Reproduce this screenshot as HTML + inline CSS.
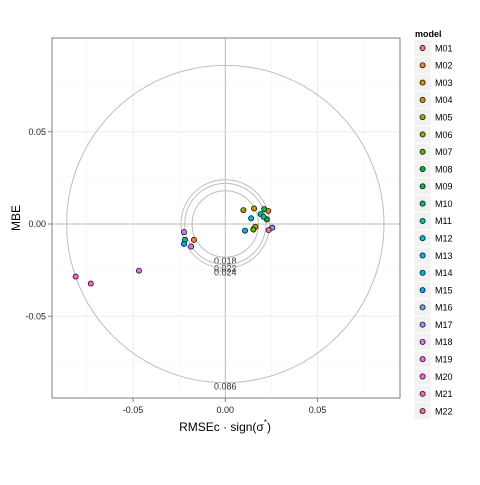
<!DOCTYPE html>
<html><head><meta charset="utf-8"><style>
body{margin:0;background:#fff;font-family:"Liberation Sans",sans-serif}
svg text{font-family:"Liberation Sans",sans-serif}
</style></head><body>
<svg id="c" width="480" height="480" xmlns="http://www.w3.org/2000/svg"></svg>
<script>
const models=["M01","M02","M03","M04","M05","M06","M07","M08","M09","M10","M11","M12","M13","M14","M15","M16","M17","M18","M19","M20","M21","M22"];
const xVals=[0.0153,-0.0170,0.0233,0.0156,0.0163,0.0098,0.0152,0.0225,0.0211,0.0192,-0.0219,0.0207,0.0140,0.0107,-0.0224,0.0255,-0.0224,-0.0185,-0.0468,-0.0811,-0.0729,0.0235];
const yVals=[-0.0027,-0.0086,0.0071,0.0084,-0.0015,0.0075,-0.0030,0.0025,0.0081,0.0054,-0.0086,0.0039,0.0031,-0.0036,-0.0108,-0.0020,-0.0044,-0.0122,-0.0253,-0.0285,-0.0323,-0.0033];
const circleR=[0.018,0.022,0.024,0.086];
const xTicks=[-0.05,0,0.05];const xTickLabels=["-0.05","0.00","0.05"];
const yTicks=[-0.05,0,0.05];const yTickLabels=["-0.05","0.00","0.05"];
const minorTicks=[-0.075,-0.025,0.025,0.075];
const L=52,R=400,T=38,B=398,X0=225.3,Y0=224,S=1845;
const sx=v=>X0+v*S, sy=v=>Y0-v*S;
const svg=document.getElementById('c');const NS="http://www.w3.org/2000/svg";
function el(t,a,p){const e=document.createElementNS(NS,t);for(const k in a)e.setAttribute(k,a[k]);(p||svg).appendChild(e);return e;}
function hcl(h,c,l){const hr=h*Math.PI/180;const U=c*Math.cos(hr),V=c*Math.sin(hr);
const Y=l>8?Math.pow((l+16)/116,3):l/903.3;const un=0.19784,vn=0.46834;
const u=U/(13*l)+un,v=V/(13*l)+vn;const X=Y*9*u/(4*v),Z=Y*(12-3*u-20*v)/(4*v);
let r=3.2406*X-1.5372*Y-0.4986*Z,g=-0.9689*X+1.8758*Y+0.0415*Z,b=0.0557*X-0.2040*Y+1.0570*Z;
const f=x=>{x=x<=0.0031308?12.92*x:1.055*Math.pow(x,1/2.4)-0.055;return Math.round(Math.max(0,Math.min(1,x))*255)};
return `rgb(${f(r)},${f(g)},${f(b)})`;}
const cols=models.map((m,i)=>hcl(15+i*360/22,100,65));
let g;
g=el('rect',{x:L,y:T,width:R-L,height:B-T,fill:'#fff'});

minorTicks.forEach(v=>{if(sx(v)>L&&sx(v)<R){const l=el('line',{x1:sx(v),x2:sx(v),y1:T,y2:B,stroke:'#f3f3f3','stroke-width':0.6});}
if(sy(v)>T&&sy(v)<B){const l=el('line',{x1:L,x2:R,y1:sy(v),y2:sy(v),stroke:'#f3f3f3','stroke-width':0.6});}});
xTicks.forEach(v=>{const l=el('line',{x1:sx(v),x2:sx(v),y1:T,y2:B,stroke:'#ebebeb','stroke-width':0.9});});
yTicks.forEach(v=>{const l=el('line',{x1:L,x2:R,y1:sy(v),y2:sy(v),stroke:'#ebebeb','stroke-width':0.9});});
g=el('line',{x1:sx(0),x2:sx(0),y1:T,y2:B,stroke:'#bdbdbd','stroke-width':1});
g=el('line',{x1:L,x2:R,y1:sy(0),y2:sy(0),stroke:'#bdbdbd','stroke-width':1});
circleR.forEach(r=>{const c=el('circle',{cx:sx(0),cy:sy(0),r:r*S,fill:'none',stroke:'#bdbdbd','stroke-width':1});
const t=el('text',{x:sx(0),y:sy(-r)+7,'font-size':9,'text-anchor':'middle',fill:'#333'});t.textContent=r.toFixed(3);});
models.forEach((m,i)=>{const c=el('circle',{cx:sx(xVals[i]),cy:sy(yVals[i]),r:2.6,fill:cols[i],stroke:'#000','stroke-width':0.7});});
g=el('rect',{x:L,y:T,width:R-L,height:B-T,fill:'none',stroke:'#7f7f7f','stroke-width':1});
xTicks.forEach((v,i)=>{el('line',{x1:sx(v),x2:sx(v),y1:B,y2:B+4,stroke:'#7f7f7f'});const t=el('text',{x:sx(v),y:B+15,'font-size':9,'text-anchor':'middle',fill:'#222'});t.textContent=xTickLabels[i];});
yTicks.forEach((v,i)=>{el('line',{x1:L-4,x2:L,y1:sy(v),y2:sy(v),stroke:'#7f7f7f'});const t=el('text',{x:L-6,y:sy(v)+3,'font-size':9,'text-anchor':'end',fill:'#222'});t.textContent=yTickLabels[i];});
g=el('text',{x:225,y:431,'font-size':12,'text-anchor':'middle',fill:'#000'});g.innerHTML='RMSEc · sign(σ<tspan dy="-6" font-size="8">*</tspan><tspan dy="6">)</tspan>';
g=el('text',{x:0,y:0,'font-size':12,'text-anchor':'middle',fill:'#000',transform:'translate(20,218) rotate(-90)'});g.textContent='MBE';
g=el('text',{x:415,y:37,'font-size':9,'font-weight':'bold',fill:'#000'});g.textContent='model';
models.forEach((m,i)=>{const y=48+i*17.29;
const r=el('rect',{x:414,y:y-8.6,width:17.3,height:17.3,fill:'#f2f2f2',stroke:'#fff','stroke-width':1});
const c=el('circle',{cx:422.6,cy:y,r:2.6,fill:cols[i],stroke:'#000','stroke-width':0.7});
const t=el('text',{x:435,y:y+3.3,'font-size':9,fill:'#000'});t.textContent=m;});
</script>
</body></html>
